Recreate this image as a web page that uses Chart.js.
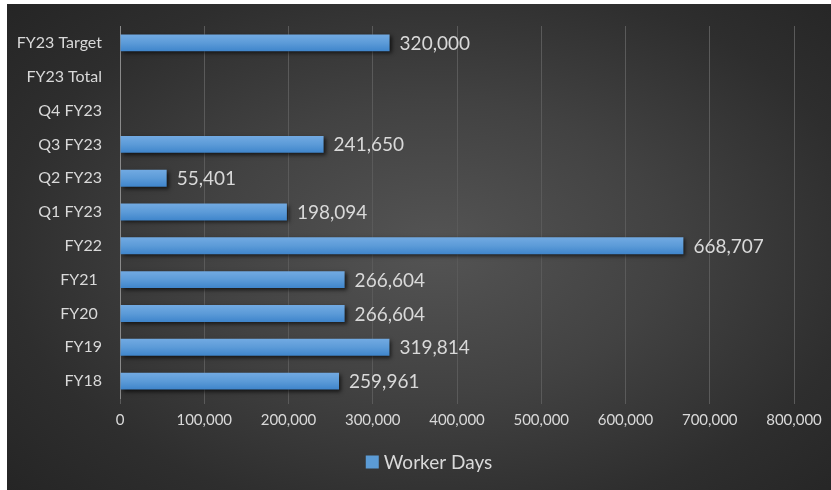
<!DOCTYPE html>
<html>
<head>
<meta charset="utf-8">
<title>Worker Days</title>
<script src="https://cdn.jsdelivr.net/npm/chart.js@4/dist/chart.umd.min.js"></script>
<style>
  html, body { margin: 0; padding: 0; background: #ffffff; }
  #wrap {
    position: absolute; left: 7px; top: 4px; width: 824px; height: 486px;
    background: radial-gradient(ellipse 70% 75% at 52% 50%, #545454 0%, #424242 40%, #2e2e2e 75%, #252525 100%);
  }
</style>
</head>
<body>
<div id="wrap"><canvas id="chart" width="824" height="486"></canvas></div>
<script>
// categories, bottom to top
const periods = ['FY18', 'FY19', 'FY20 ', 'FY21 ', 'FY22', 'Q1 FY23', 'Q2 FY23', 'Q3 FY23', 'Q4 FY23', 'FY23 Total', 'FY23 Target'];
const workerDays = [259961, 319814, 266604, 266604, 668707, 198094, 55401, 241650, null, null, 320000];
const xTicks = [0, 100000, 200000, 300000, 400000, 500000, 600000, 700000, 800000];
const seriesName = 'Worker Days';

const textColor = '#d9d9d9';
const barBlue = '#5b9bd5';
const fontFamily = 'Lato, "Open Sans", sans-serif';

// blue bar with a light top edge fading to a deeper blue underneath
function barFill(c) {
    const ys = c.chart.scales.y;
    if (!ys || ys.top == null || c.dataIndex == null) return barBlue;
    const yc = ys.getPixelForValue(c.dataIndex);
    const half = (ys.height / periods.length) * 0.25;
    const g = c.chart.ctx.createLinearGradient(0, yc - half, 0, yc + half);
    g.addColorStop(0, '#72aae2');
    g.addColorStop(0.5, '#5c9bd8');
    g.addColorStop(1, '#3f85cb');
    return g;
}

// soft drop shadow under bars, value labels beside each bar, and the legend key
const barExtras = {
    id: 'barExtras',
    beforeDatasetsDraw(chart) {
        const ctx = chart.ctx;
        ctx.save();
        ctx.shadowColor = 'rgba(0,0,0,0.65)';
        ctx.shadowBlur = 4;
        ctx.shadowOffsetX = 2;
        ctx.shadowOffsetY = 2;
    },
    afterDatasetsDraw(chart) {
        const ctx = chart.ctx;
        ctx.restore();
        const meta = chart.getDatasetMeta(0);
        ctx.save();
        ctx.font = '19px ' + fontFamily;
        ctx.fillStyle = textColor;
        ctx.textAlign = 'left';
        ctx.textBaseline = 'middle';
        meta.data.forEach((bar, i) => {
            const v = workerDays[i];
            if (v === null) return;
            ctx.fillText(v.toLocaleString('en-US'), bar.x + 10, bar.y + 1);
        });
        ctx.restore();
    },
    afterDraw(chart) {
        const ctx = chart.ctx;
        ctx.save();
        ctx.font = '19px ' + fontFamily;
        const box = 13, gap = 5;
        const w = box + gap + ctx.measureText(seriesName).width;
        const x0 = chart.width / 2 + 10 - w / 2;
        const yc = 458;
        ctx.fillStyle = barBlue;
        ctx.fillRect(x0, yc - box / 2, box, box);
        ctx.fillStyle = textColor;
        ctx.textBaseline = 'middle';
        ctx.fillText(seriesName, x0 + box + gap, yc + 1);
        ctx.restore();
    }
};

new Chart(document.getElementById('chart'), {
    type: 'bar',
    data: {
        labels: periods,
        datasets: [{
            label: seriesName,
            data: workerDays,
            backgroundColor: barFill,
            borderWidth: 0,
            barPercentage: 0.5,
            categoryPercentage: 1
        }]
    },
    options: {
        indexAxis: 'y',
        responsive: false,
        animation: false,
        layout: { padding: { top: 22, right: 37, bottom: 49, left: 0 } },
        scales: {
            x: {
                min: 0,
                max: 800000,
                afterBuildTicks: (scale) => { scale.ticks = xTicks.map(v => ({ value: v })); },
                afterFit: (scale) => { scale.height = 43; },
                grid: { color: '#5a5a5a', tickColor: '#5a5a5a', tickLength: 6, lineWidth: 1 },
                border: { display: false },
                ticks: {
                    color: textColor,
                    font: { family: fontFamily, size: 15 },
                    padding: 7,
                    maxRotation: 0,
                    callback: (v) => Number(v).toLocaleString('en-US')
                }
            },
            y: {
                reverse: true,
                afterFit: (scale) => { scale.width = 113; },
                grid: { display: false },
                border: { display: true, color: '#8a8a8a', width: 1 },
                ticks: {
                    color: textColor,
                    font: { family: fontFamily, size: 16 },
                    padding: 10
                }
            }
        },
        plugins: {
            legend: { display: false },
            tooltip: { enabled: false }
        }
    },
    plugins: [barExtras]
});
</script>
</body>
</html>
